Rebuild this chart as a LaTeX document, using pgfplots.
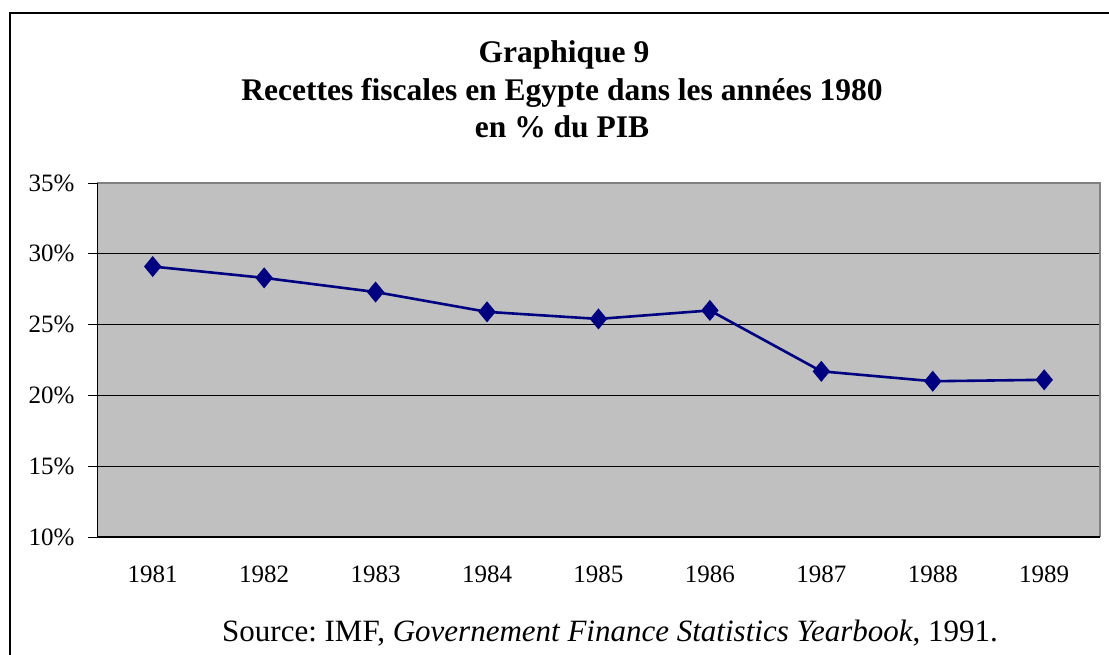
\documentclass[border=0pt]{standalone}
\usepackage{pgfplots}
\pgfplotsset{compat=1.18}
\usepackage{fontspec}
\setmainfont{Liberation Serif}
\frenchspacing
\definecolor{plotgray}{HTML}{C0C0C0}
\definecolor{navy}{HTML}{000080}
\begin{document}
\begin{tikzpicture}
\useasboundingbox (0pt,0pt) rectangle (1109pt,655pt);
\draw[line width=1.5pt] (10pt,-5pt) -- (10pt,642pt) -- (1115pt,642pt);
\node[anchor=base,font=\fontsize{31.5}{37.5}\selectfont\bfseries,inner sep=0pt] at (564pt,592.3pt) {Graphique 9};
\node[anchor=base,font=\fontsize{31.5}{37.5}\selectfont\bfseries,inner sep=0pt] at (562pt,554.8pt) {Recettes fiscales en Egypte dans les années 1980};
\node[anchor=base,font=\fontsize{31.5}{37.5}\selectfont\bfseries,inner sep=0pt] at (562pt,517.3pt) {en \% du PIB};
\begin{axis}[
  at={(97pt,118pt)}, anchor=south west,
  width=1003pt, height=354pt, scale only axis,
  xmin=0.5, xmax=9.5, ymin=10, ymax=35,
  xtick={1,2,3,4,5,6,7,8,9},
  xticklabels={1981,1982,1983,1984,1985,1986,1987,1988,1989},
  extra x ticks={0.5,1.5,2.5,3.5,4.5,5.5,6.5,7.5,8.5,9.5},
  extra x tick labels={},
  extra x tick style={major tick length=9pt, tick style={black, line width=0.8pt}, grid=none},
  ytick={10,15,20,25,30,35},
  yticklabels={10\%,15\%,20\%,25\%,30\%,35\%},
  tick label style={font=\fontsize{25}{28}\selectfont},
  tick align=outside,
  major tick length=9pt,
  tick style={black, line width=0.8pt},
  x tick style={draw=none},
  xtick pos=bottom, ytick pos=left,
  ymajorgrids,
  grid style={black, line width=0.8pt},
  axis line style={draw=none},
  axis background/.style={fill=plotgray},
  xticklabel style={yshift=-16pt},
  yticklabel style={xshift=-10pt},
  clip=false,
]
\addplot[navy, line width=2.6pt, mark=diamond*, mark size=8.5pt, mark options={solid, xscale=1.1}]
  coordinates {(1,29.1) (2,28.3) (3,27.3) (4,25.9) (5,25.4) (6,26.0) (7,21.7) (8,21.0) (9,21.1)};
\draw[gray, line width=2pt] (rel axis cs:0,1) -- (rel axis cs:1,1) -- (rel axis cs:1,0);
\draw[black, line width=1pt] (rel axis cs:0,1) -- (rel axis cs:0,0) -- (rel axis cs:1,0);
\end{axis}
\node[anchor=base west,inner sep=0pt,font=\fontsize{31}{34}\selectfont] at (222pt,13pt) {Source: IMF, \textit{Governement Finance Statistics Yearbook}, 1991.};
\end{tikzpicture}
\end{document}
